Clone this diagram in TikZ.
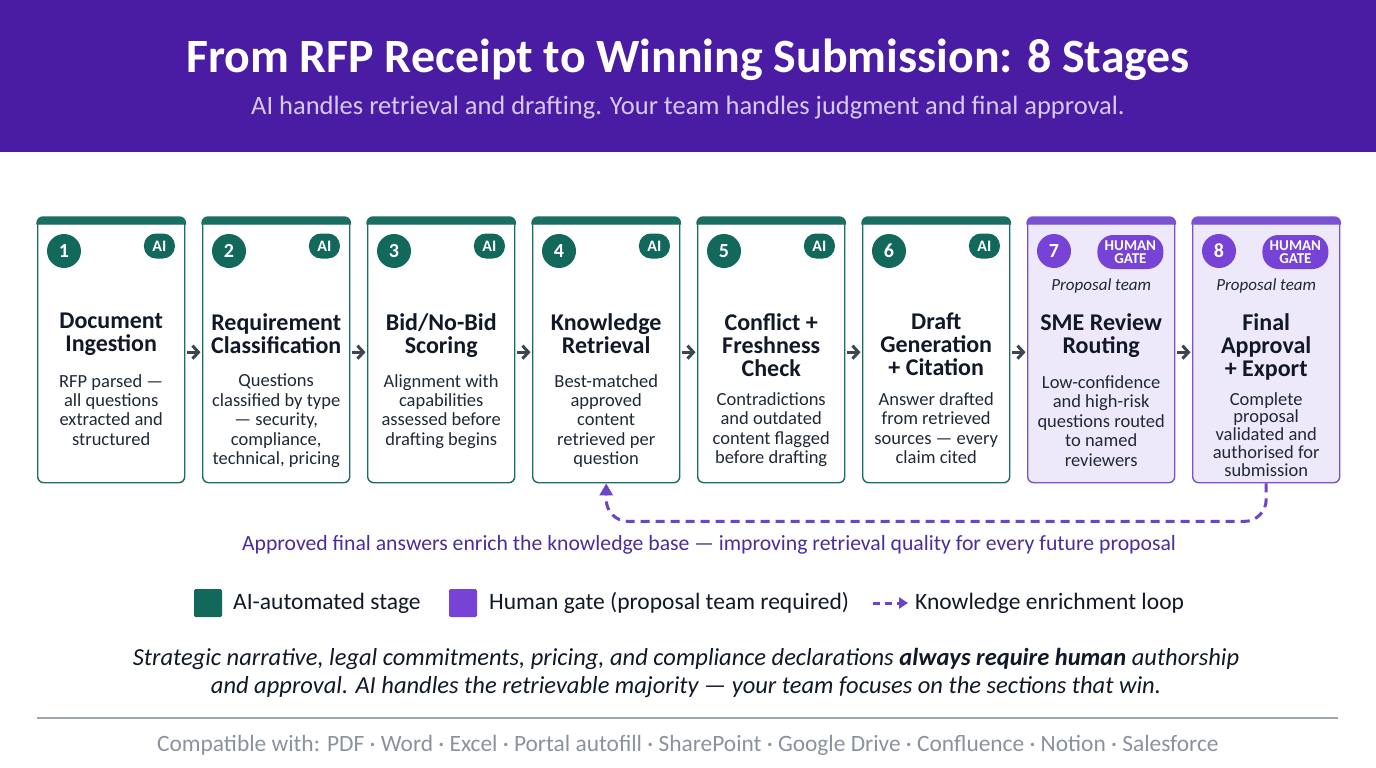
\documentclass[tikz,border=0pt]{standalone}
\usepackage{fontspec}
\setmainfont{Carlito}
\usetikzlibrary{arrows.meta,positioning}

\definecolor{bandpurple}{HTML}{4A1CA3}
\definecolor{subtitlelav}{HTML}{D6CAF3}
\definecolor{aiteal}{HTML}{1B6E62}
\definecolor{dotteal}{HTML}{12685B}
\definecolor{humanpurple}{HTML}{7A52CF}
\definecolor{dotpurple}{HTML}{7743D6}
\definecolor{humanfill}{HTML}{EEE8FB}
\definecolor{inkdark}{HTML}{111827}
\definecolor{inkbody}{HTML}{1F2937}
\definecolor{arrowgray}{HTML}{3C4650}
\definecolor{looppurple}{HTML}{6B44C9}
\definecolor{captionpurple}{HTML}{4A2E9C}
\definecolor{rulegray}{HTML}{A0A7AF}
\definecolor{footgray}{HTML}{8A939D}

\begin{document}
\begin{tikzpicture}[x=1pt,y=-1pt,
  stagebox/.style={draw=#1, line width=1.4pt, rounded corners=6pt,
    minimum width=147pt, minimum height=265pt, anchor=north west, inner sep=0pt},
  numdot/.style={circle, fill=#1, text=white, minimum size=34pt, inner sep=0pt,
    font=\fontsize{20}{20}\selectfont\bfseries},
  aitag/.style={fill=dotteal, text=white, rounded corners=12pt, minimum width=31pt,
    minimum height=25pt, inner sep=0pt, xshift=-26pt, yshift=-29pt,
    font=\fontsize{16}{16}\selectfont\bfseries},
  humantag/.style={fill=dotpurple, text=white, rounded corners=16pt, minimum width=66pt,
    minimum height=34pt, inner sep=0pt, align=center, xshift=-45pt, yshift=-35pt,
    font=\fontsize{15}{13.5}\selectfont\bfseries},
  stagettl/.style={anchor=north, align=center, inner sep=0pt, text=inkdark,
    font=\fontsize{24}{23}\selectfont\bfseries},
  stagedsc/.style={anchor=north, align=center, inner sep=0pt, text=inkbody},
  teamlbl/.style={text=inkbody, inner sep=0pt, font=\fontsize{17}{17}\selectfont\itshape},
  stagearrow/.style={draw=arrowgray, line width=3pt, shorten <=1.5pt, shorten >=1.5pt,
    -{Straight Barb[length=6pt,width=13pt]}},
  enrichloop/.style={draw=looppurple, line width=3pt, dash pattern=on 9pt off 6pt,
    rounded corners=22pt, -{Triangle[length=12pt,width=13pt]}},
  legendsq/.style={fill=#1, minimum size=28pt, inner sep=0pt, rounded corners=1.5pt},
  legendtxt/.style={anchor=west, inner sep=0pt, text=inkdark, font=\fontsize{23.5}{23.5}\selectfont}
]
  \useasboundingbox (0,0) rectangle (1376,768);
  \fill[white] (0,0) rectangle (1376,768);

  % header band
  \fill[bandpurple] (0,0) rectangle (1376,152);
  \node[text=white, font=\fontsize{47.8}{48}\selectfont\bfseries] (title) at (688,60)
    {From RFP Receipt to Winning Submission: 8 Stages};
  \node[text=subtitlelav, font=\fontsize{26.5}{26.5}\selectfont] (subtitle) at (688,108)
    {AI handles retrieval and drafting. Your team handles judgment and final approval.};

  % stages
  \foreach \n/\col/\fil/\dot/\tagstyle/\tagtext/\ttl/\dsc/\dtop/\dskip in {
    1/aiteal/white/dotteal/aitag/AI/{Document\\Ingestion}/{RFP parsed —\\all questions\\extracted and\\structured}/157/19.4,
    2/aiteal/white/dotteal/aitag/AI/{Requirement\\Classification}/{Questions\\classified by type\\— security,\\compliance,\\technical, pricing}/157/19.4,
    3/aiteal/white/dotteal/aitag/AI/{Bid/No-Bid\\Scoring}/{Alignment with\\capabilities\\assessed before\\drafting begins}/157/19.4,
    4/aiteal/white/dotteal/aitag/AI/{Knowledge\\Retrieval}/{Best-matched\\approved\\content\\retrieved per\\question}/157/19.4,
    5/aiteal/white/dotteal/aitag/AI/{Conflict +\\Freshness\\Check}/{Contradictions\\and outdated\\content flagged\\before drafting}/175/19.6,
    6/aiteal/white/dotteal/aitag/AI/{Draft\\Generation\\+ Citation}/{Answer drafted\\from retrieved\\sources — every\\claim cited}/175/19.6,
    7/humanpurple/humanfill/dotpurple/humantag/{HUMAN\\GATE}/{SME Review\\Routing}/{Low-confidence\\and high-risk\\questions routed\\to named\\reviewers}/158/19.6,
    8/humanpurple/humanfill/dotpurple/humantag/{HUMAN\\GATE}/{Final\\Approval\\+ Export}/{Complete\\proposal\\validated and\\authorised for\\submission}/175/17.8}{
    \node[stagebox=\col, fill=\fil] (s\n) at ({37+(\n-1)*165}, 217) {};
    \filldraw[draw=\col, fill=\col, line width=1.4pt]
      ([yshift=-7pt]s\n.north west) [rounded corners=6pt] -- (s\n.north west)
      -- (s\n.north east) [sharp corners] -- ([yshift=-7pt]s\n.north east) -- cycle;
    \node[numdot=\dot] (num\n) at ([xshift=27pt, yshift=-34pt]s\n.north west) {\n};
    \node[\tagstyle] (tag\n) at (s\n.north east) {\tagtext};
    \node[stagettl] (ttl\n) at ([yshift=-96pt]s\n.north) {\ttl};
    \node[stagedsc, font=\fontsize{18.5}{\dskip}\selectfont] (dsc\n)
      at ([yshift=-\dtop pt]s\n.north) {\dsc};
  }
  \foreach \n in {7,8}
    \node[teamlbl] (team\n) at ([yshift=-69pt]s\n.north) {Proposal team};

  % flow arrows
  \foreach \a in {1,...,7}{
    \pgfmathtruncatemacro\b{\a+1}
    \draw[stagearrow] ([yshift=-2pt]s\a.east) -- ([yshift=-2pt]s\b.west);
  }

  % knowledge loop
  \draw[enrichloop] (s8.south) -- ([yshift=-38pt]s8.south)
    -- ([yshift=-38pt]s4.south) -- (s4.south);
  \node[text=captionpurple, font=\fontsize{21.7}{21.7}\selectfont] (loopcap) at (709,545)
    {Approved final answers enrich the knowledge base — improving retrieval quality for every future proposal};

  % legend
  \node[legendsq=dotteal] (lgsq1) at (208,603) {};
  \node[legendtxt] (lgtx1) at (233,603) {AI-automated stage};
  \node[legendsq=dotpurple] (lgsq2) at (463,603) {};
  \node[legendtxt] (lgtx2) at (489,603) {Human gate (proposal team required)};
  \coordinate (lgstart) at (873,603);
  \node[legendtxt] (lgtx3) at (915,603) {Knowledge enrichment loop};
  \draw[draw=looppurple, line width=3pt, dash pattern=on 7pt off 5pt,
    -{Triangle[length=9pt,width=11pt]}, shorten >=7pt] (lgstart) -- (lgtx3.west);

  % closing note
  \node[align=center, text=inkdark, font=\fontsize{24.5}{28}\selectfont\itshape] (note) at (686,673)
    {Strategic narrative, legal commitments, pricing, and compliance declarations \textbf{always require human} authorship\\
     and approval. AI handles the retrievable majority — your team focuses on the sections that win.};
  \draw[rulegray, line width=1.5pt] (37,718) -- (1338,718);
  \node[text=footgray, font=\fontsize{23.4}{23.4}\selectfont] (compat) at (688,745)
    {Compatible with: PDF · Word · Excel · Portal autofill · SharePoint · Google Drive · Confluence · Notion · Salesforce};
\end{tikzpicture}
\end{document}
